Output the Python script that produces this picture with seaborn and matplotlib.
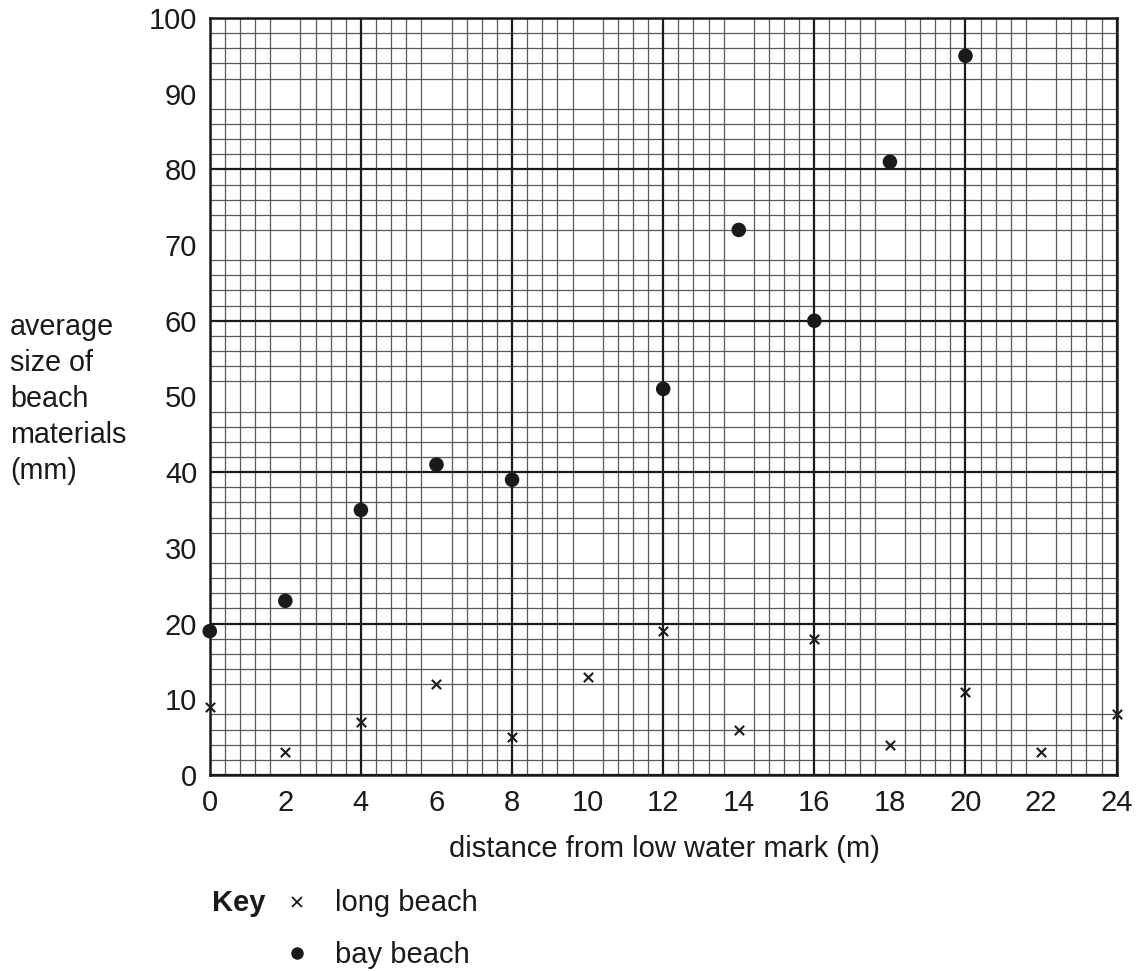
import pandas as pd
import matplotlib
matplotlib.use("Agg")
import matplotlib.pyplot as plt
from matplotlib.ticker import MultipleLocator
from matplotlib.lines import Line2D
import seaborn as sns

# data
long_x = [0, 2, 4, 6, 8, 10, 12, 14, 16, 18, 20, 22, 24]
long_y = [9, 3, 7, 12, 5, 13, 19, 6, 18, 4, 11, 3, 8]
bay_x = [0, 2, 4, 6, 8, 12, 14, 16, 18, 20]
bay_y = [19, 23, 35, 41, 39, 51, 72, 60, 81, 95]

x_ticks = list(range(0, 25, 2))
y_ticks = list(range(0, 101, 10))

sns.set_style("white")
plt.rcParams['font.family'] = ['Liberation Sans', 'DejaVu Sans']

fig = plt.figure(figsize=(11.4, 9.71), dpi=100)
ax = fig.add_axes([0.184, 0.2019, 0.7955, 0.7796])

long_df = pd.DataFrame({"x": long_x, "y": long_y})
bay_df = pd.DataFrame({"x": bay_x, "y": bay_y})

sns.scatterplot(data=long_df, x="x", y="y", marker="x", s=45, color="#1a1a1a",
                linewidth=1.5, ax=ax, zorder=5, clip_on=False)
sns.scatterplot(data=bay_df, x="x", y="y", marker="o", s=110, color="#1a1a1a",
                edgecolor="none", ax=ax, zorder=5, clip_on=False)

ax.set_xlim(0, 24)
ax.set_ylim(0, 100)

# graph paper grid
ax.xaxis.set_minor_locator(MultipleLocator(0.4))
ax.yaxis.set_minor_locator(MultipleLocator(2))
ax.grid(which="minor", color="#5a5a5a", linewidth=0.9)
ax.set_axisbelow(True)
for v in range(0, 25, 4):
    ax.axvline(v, color="#1a1a1a", linewidth=1.6, zorder=1)
for v in range(0, 101, 20):
    ax.axhline(v, color="#1a1a1a", linewidth=1.6, zorder=1)

ax.set_xticks(x_ticks)
ax.set_yticks(y_ticks)
ax.tick_params(which="major", direction="out", length=7, width=1.6,
               labelsize=21, color="#1a1a1a", labelcolor="#1a1a1a", pad=2)
ax.tick_params(which="minor", length=0)
ax.tick_params(axis="x", pad=3)
for s in ax.spines.values():
    s.set_color("#1a1a1a")
    s.set_linewidth(1.8)

ax.set_xlabel("")
ax.set_ylabel("")

fig.text(664 / 1140, 1 - 849 / 971, "distance from low water mark (m)",
         fontsize=21, ha="center", va="center", color="#1a1a1a")
fig.text(10 / 1140, 1 - 399 / 971, "average\nsize of\nbeach\nmaterials\n(mm)",
         fontsize=20.7, ha="left", va="center", color="#1a1a1a", linespacing=1.36)

# key
fig.text(212 / 1140, 1 - 903 / 971, "Key", fontsize=21, fontweight="bold",
         ha="left", va="center", color="#1a1a1a")
fig.add_artist(Line2D([297 / 1140], [1 - 902 / 971], marker="x", markersize=7,
                      markeredgewidth=1.3, color="#1a1a1a", linestyle="none"))
fig.add_artist(Line2D([297 / 1140], [1 - 953 / 971], marker="o", markersize=9,
                      color="#1a1a1a", markeredgewidth=0, linestyle="none"))
fig.text(335 / 1140, 1 - 903 / 971, "long beach", fontsize=21,
         ha="left", va="center", color="#1a1a1a")
fig.text(335 / 1140, 1 - 955 / 971, "bay beach", fontsize=21,
         ha="left", va="center", color="#1a1a1a")

fig.savefig("out.png", dpi=100)
